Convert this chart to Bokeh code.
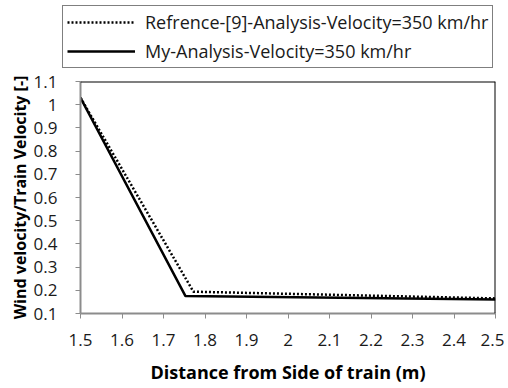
from bokeh.plotting import figure
from bokeh.layouts import column
from bokeh.models import FixedTicker, Span, Legend, LegendItem, CustomJSTickFormatter
from bokeh.embed import file_html
from bokeh.resources import INLINE

# data
ref_x = [1.5, 1.772, 2.5]
ref_y = [1.03, 0.194, 0.165]
my_x = [1.5, 1.753, 2.5]
my_y = [1.03, 0.175, 0.16]
x_ticks = [1.5, 1.6, 1.7, 1.8, 1.9, 2.0, 2.1, 2.2, 2.3, 2.4, 2.5]
y_ticks = [0.1, 0.2, 0.3, 0.4, 0.5, 0.6, 0.7, 0.8, 0.9, 1.0, 1.1]
ref_label = "Refrence-[9]-Analysis-Velocity=350 km/hr"
my_label = "My-Analysis-Velocity=350 km/hr"
x_title = "Distance from Side of train (m)"
y_title = "Wind velocity/Train Velocity [-]"

FONT = "Open Sans"
DOT = "2 2"

# legend strip (separate figure above the chart)
lg = figure(width=504, height=68, output_backend="svg", toolbar_location=None,
            x_range=(0, 1), y_range=(0, 1),
            min_border_left=62, min_border_right=0, min_border_top=5, min_border_bottom=0)
lg.frame_align = False
lg.axis.visible = False
lg.grid.visible = False
lg.outline_line_color = None
d1 = lg.line(ref_x, ref_y, line_color="black", line_width=2.5, line_dash=DOT)
d2 = lg.line(my_x, my_y, line_color="black", line_width=2.5)
legend = Legend(items=[LegendItem(label=ref_label, renderers=[d1]),
                       LegendItem(label=my_label, renderers=[d2])],
                location="top_left")
legend.label_text_font = FONT
legend.label_text_font_size = "18px"
legend.label_text_color = "#1a1a1a"
legend.glyph_width = 68
legend.glyph_height = 20
legend.label_height = 20
legend.label_standoff = 10
legend.padding = 4
legend.spacing = 5
legend.margin = 0
legend.border_line_color = "black"
legend.border_line_width = 1.5
legend.background_fill_alpha = 1
lg.add_layout(legend, "center")

p = figure(width=504, height=318, output_backend="svg", toolbar_location=None,
           x_range=(1.5, 2.5), y_range=(0.1, 1.1),
           min_border_left=80, min_border_right=9, min_border_top=13, min_border_bottom=72)
p.frame_align = False
p.outline_line_color = None
p.xgrid.visible = False
p.ygrid.visible = False

p.line(ref_x, ref_y, line_color="black", line_width=2.5, line_dash=DOT)
p.line(my_x, my_y, line_color="black", line_width=2.5)

p.add_layout(Span(location=1.1, dimension="width", line_color="black", line_width=2))
p.add_layout(Span(location=2.5, dimension="height", line_color="black", line_width=2))

fmt = CustomJSTickFormatter(code="return String(parseFloat(tick.toFixed(2)));")
for ax, ticks in ((p.xaxis[0], x_ticks), (p.yaxis[0], y_ticks)):
    ax.ticker = FixedTicker(ticks=ticks)
    ax.formatter = fmt
    ax.axis_line_color = "#8c8c8c"
    ax.axis_line_width = 2
    ax.major_tick_line_color = "#8c8c8c"
    ax.major_tick_line_width = 1
    ax.major_tick_out = 5
    ax.major_tick_in = 0
    ax.minor_tick_line_color = None
    ax.major_label_text_font = FONT
    ax.major_label_text_font_size = "17px"
    ax.major_label_text_color = "#1a1a1a"
    ax.axis_label_text_font = FONT
    ax.axis_label_text_font_style = "bold"
    ax.axis_label_text_color = "black"

p.xaxis.axis_label = x_title
p.yaxis.axis_label = y_title
p.xaxis.axis_label_text_font_size = "18px"
p.yaxis.axis_label_text_font_size = "16px"
p.xaxis.major_label_standoff = 15
p.yaxis.major_label_standoff = 18
p.xaxis.axis_label_standoff = 11
p.yaxis.axis_label_standoff = 0

open("out.html", "w").write(file_html(column(lg, p), INLINE))
